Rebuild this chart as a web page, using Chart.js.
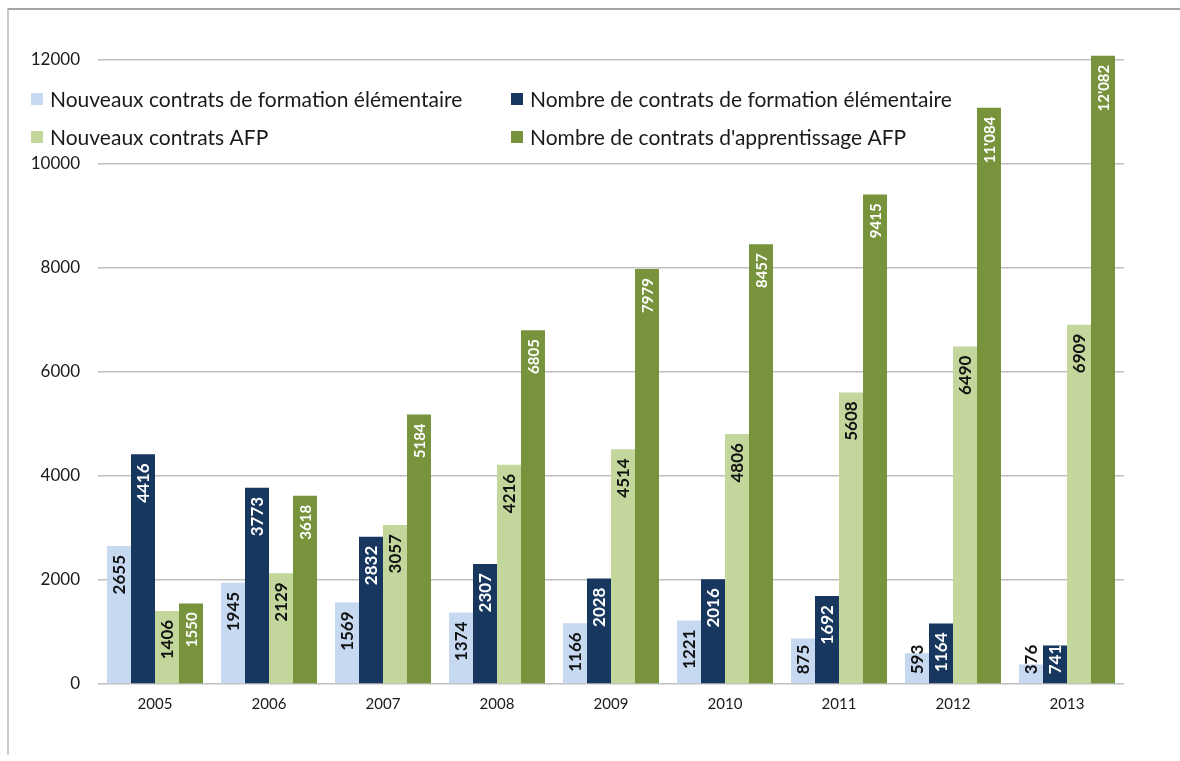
<!DOCTYPE html>
<html>
<head>
<meta charset="utf-8">
<script src="https://cdn.jsdelivr.net/npm/chart.js@4"></script>
<style>
  body { margin: 0; background: #fff; }
  #wrap { position: relative; width: 1180px; height: 761px; }
  #frame {
    position: absolute; left: 7px; top: 8px; right: 0; height: 745px;
    border-top: 2px solid #a5a5a5; border-left: 2px solid #cccccc;
  }
  canvas { position: absolute; left: 0; top: 0; }
</style>
</head>
<body>
<div id="wrap">
  <div id="frame"></div>
  <canvas id="contractsChart" width="1180" height="761"></canvas>
</div>
<script>
const years = ["2005","2006","2007","2008","2009","2010","2011","2012","2013"];
const nouveauxFE = [2655, 1945, 1569, 1374, 1166, 1221, 875, 593, 376];
const nombreFE = [4416, 3773, 2832, 2307, 2028, 2016, 1692, 1164, 741];
const nouveauxAFP = [1406, 2129, 3057, 4216, 4514, 4806, 5608, 6490, 6909];
const nombreAFP = [1550, 3618, 5184, 6805, 7979, 8457, 9415, 11084, 12082];

const seriesNames = [
  "Nouveaux contrats de formation élémentaire",
  "Nombre de contrats de formation élémentaire",
  "Nouveaux contrats AFP",
  "Nombre de contrats d'apprentissage AFP"
];
const colors = ["#c6d9f1", "#17375e", "#c3d69b", "#77933c"];
const labelColors = ["#111", "#fff", "#111", "#fff"];
const labelFonts = ["bold 17px Lato", "bold 17px Lato", "bold 17px Lato", "bold 15px Lato"];

function fmt(v) {
  if (v >= 10000) {
    const s = String(v);
    return s.slice(0, s.length - 3) + "'" + s.slice(-3);
  }
  return String(v);
}

// labels rotated inside the bar end
const barLabels = {
  id: "barLabels",
  afterDatasetsDraw(chart) {
    const ctx = chart.ctx;
    chart.data.datasets.forEach((ds, i) => {
      const meta = chart.getDatasetMeta(i);
      meta.data.forEach((bar, j) => {
        const text = fmt(ds.data[j]);
        ctx.save();
        ctx.font = labelFonts[i];
        ctx.fillStyle = labelColors[i];
        const w = ctx.measureText(text).width;
        let top = bar.y + 9;
        if (top + w > bar.base - 9) top = bar.base - 9 - w;
        ctx.translate(bar.x, top);
        ctx.rotate(-Math.PI / 2);
        ctx.textAlign = "right";
        ctx.textBaseline = "middle";
        ctx.fillText(text, 0, 1);
        ctx.restore();
      });
    });
  }
};

// legend sits over the plot, two columns
const inlineLegend = {
  id: "inlineLegend",
  afterDatasetsDraw(chart) {
    const ctx = chart.ctx;
    const spots = [[31, 99], [511, 99], [31, 137], [511, 137]];
    ctx.save();
    ctx.font = "21px Lato";
    ctx.textBaseline = "middle";
    seriesNames.forEach((name, i) => {
      const [x, y] = spots[i];
      ctx.fillStyle = colors[i];
      ctx.fillRect(x, y - 6, 12, 12);
      ctx.fillStyle = "#1a1a1a";
      ctx.fillText(name, x + 19, y + 1);
    });
    ctx.restore();
  }
};

const datasets = [nouveauxFE, nombreFE, nouveauxAFP, nombreAFP].map((d, i) => ({
  label: seriesNames[i],
  data: d,
  backgroundColor: colors[i],
  categoryPercentage: 0.842,
  barPercentage: 1,
  clip: false
}));

new Chart(document.getElementById("contractsChart"), {
  type: "bar",
  data: { labels: years, datasets },
  options: {
    responsive: false,
    animation: false,
    layout: { padding: { left: 20, top: 60, right: 56, bottom: 0 } },
    plugins: { legend: { display: false }, tooltip: { enabled: false } },
    scales: {
      x: {
        grid: { display: false, drawTicks: false },
        border: { display: false },
        ticks: { color: "#1a1a1a", font: { family: "Lato", size: 15 }, padding: 11 },
        afterFit: s => { s.height = 77; }
      },
      y: {
        min: 0,
        max: 12000,
        ticks: {
          stepSize: 2000,
          color: "#1a1a1a",
          font: { family: "Lato", size: 17 },
          padding: 18,
          callback: v => String(v)
        },
        grid: { color: "#bfbfbf", lineWidth: 1.5, drawTicks: false },
        border: { display: false },
        afterFit: s => { s.width = 78; }
      }
    }
  },
  plugins: [barLabels, inlineLegend]
});
</script>
</body>
</html>
